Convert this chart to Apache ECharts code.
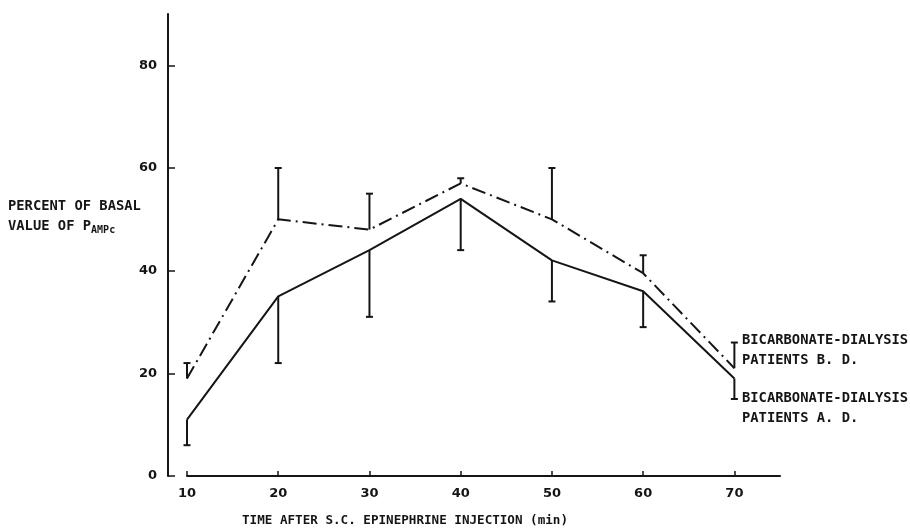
<!DOCTYPE html>
<html>
<head>
<meta charset="utf-8">
<script src="https://cdn.jsdelivr.net/npm/echarts@6/dist/echarts.min.js"></script>
<style>html,body{margin:0;padding:0;background:#fff;}#c{width:910px;height:532px;}</style>
</head>
<body>
<div id="c"></div>
<script>
// Data
var times = [10, 20, 30, 40, 50, 60, 70];
var bdMean = [19, 50, 48, 57, 50, 39.5, 21];      // B.D. (dash-dot line)
var bdUpper = [22, 60, 55, 58, 60, 43, 26];       // upper error bar ends
var adMean = [11, 35, 44, 54, 42, 36, 19];        // A.D. (solid line)
var adLower = [6, 22, 31, 44, 34, 29, 15];        // lower error bar ends
var xTicks = [10, 20, 30, 40, 50, 60, 70];
var yTicks = [0, 20, 40, 60, 80];
var yTitle = ['PERCENT OF BASAL', 'VALUE OF P', 'AMPc'];
var xTitle = 'TIME AFTER S.C. EPINEPHRINE INJECTION (min)';
var bdLabel = ['BICARBONATE-DIALYSIS', 'PATIENTS B. D.'];
var adLabel = ['BICARBONATE-DIALYSIS', 'PATIENTS A. D.'];

var INK = '#151515';
var MONO = '"DejaVu Sans Mono", monospace';

function pairs(xs, ys) { return xs.map(function (x, i) { return [x, ys[i]]; }); }
function triples(xs, ys, es) { return xs.map(function (x, i) { return [x, ys[i], es[i]]; }); }

function errRender(params, api) {
  var x = api.value(0), y = api.value(1), e = api.value(2);
  var p1 = api.coord([x, y]);
  var p2 = api.coord([x, e]);
  var w = 3.5;
  var st = { stroke: INK, lineWidth: 2 };
  return {
    type: 'group',
    children: [
      { type: 'line', shape: { x1: p1[0], y1: p1[1], x2: p2[0], y2: p2[1] }, style: st },
      { type: 'line', shape: { x1: p2[0] - w, y1: p2[1], x2: p2[0] + w, y2: p2[1] }, style: st }
    ]
  };
}

var chart = echarts.init(document.getElementById('c'), null, { renderer: 'canvas' });
chart.setOption({
  backgroundColor: '#ffffff',
  animation: false,
  grid: { left: 187, right: 130, top: 14, bottom: 56 },
  xAxis: {
    type: 'value', min: 10, max: 75,
    axisLine: { show: true, lineStyle: { color: INK, width: 2 } },
    axisTick: { show: true, inside: true, length: 5, customValues: xTicks, lineStyle: { color: INK, width: 1.5 } },
    axisLabel: { customValues: xTicks, margin: 11, color: INK, fontFamily: '"DejaVu Sans"', fontWeight: 'bold', fontSize: 13 },
    splitLine: { show: false }
  },
  yAxis: {
    type: 'value', min: 0, max: 90, offset: 19,
    axisLine: { show: true, lineStyle: { color: INK, width: 2 } },
    axisTick: { show: true, inside: true, length: 7, customValues: yTicks, lineStyle: { color: INK, width: 1.5 } },
    axisLabel: { customValues: yTicks, margin: 11, color: INK, fontFamily: '"DejaVu Sans"', fontWeight: 'bold', fontSize: 13 },
    splitLine: { show: false }
  },
  series: [
    {
      type: 'line', data: pairs(times, bdMean), symbol: 'none',
      lineStyle: { color: INK, width: 2, type: [14, 5, 2, 5] }
    },
    {
      type: 'line', data: pairs(times, adMean), symbol: 'none',
      lineStyle: { color: INK, width: 2, type: 'solid' }
    },
    { type: 'custom', data: triples(times, bdMean, bdUpper), renderItem: errRender },
    { type: 'custom', data: triples(times, adMean, adLower), renderItem: errRender }
  ],
  graphic: [
    {
      type: 'text', left: 8, top: 196,
      style: {
        text: yTitle[0] + '\n' + yTitle[1] + '{s|' + yTitle[2] + '}',
        font: 'bold 13.8px ' + MONO, fill: INK, lineHeight: 20,
        rich: { s: { fontSize: 10, fontWeight: 'bold', fontFamily: MONO, padding: [9, 0, 0, 0], fill: INK, lineHeight: 20 } }
      }
    },
    {
      type: 'text', left: 742, top: 330,
      style: { text: bdLabel.join('\n'), font: 'bold 13.8px ' + MONO, fill: INK, lineHeight: 20 }
    },
    {
      type: 'text', left: 742, top: 388,
      style: { text: adLabel.join('\n'), font: 'bold 13.8px ' + MONO, fill: INK, lineHeight: 20 }
    },
    {
      type: 'text', left: 242, top: 514,
      style: { text: xTitle, font: 'bold 12.6px ' + MONO, fill: INK }
    }
  ]
});
</script>
</body>
</html>
